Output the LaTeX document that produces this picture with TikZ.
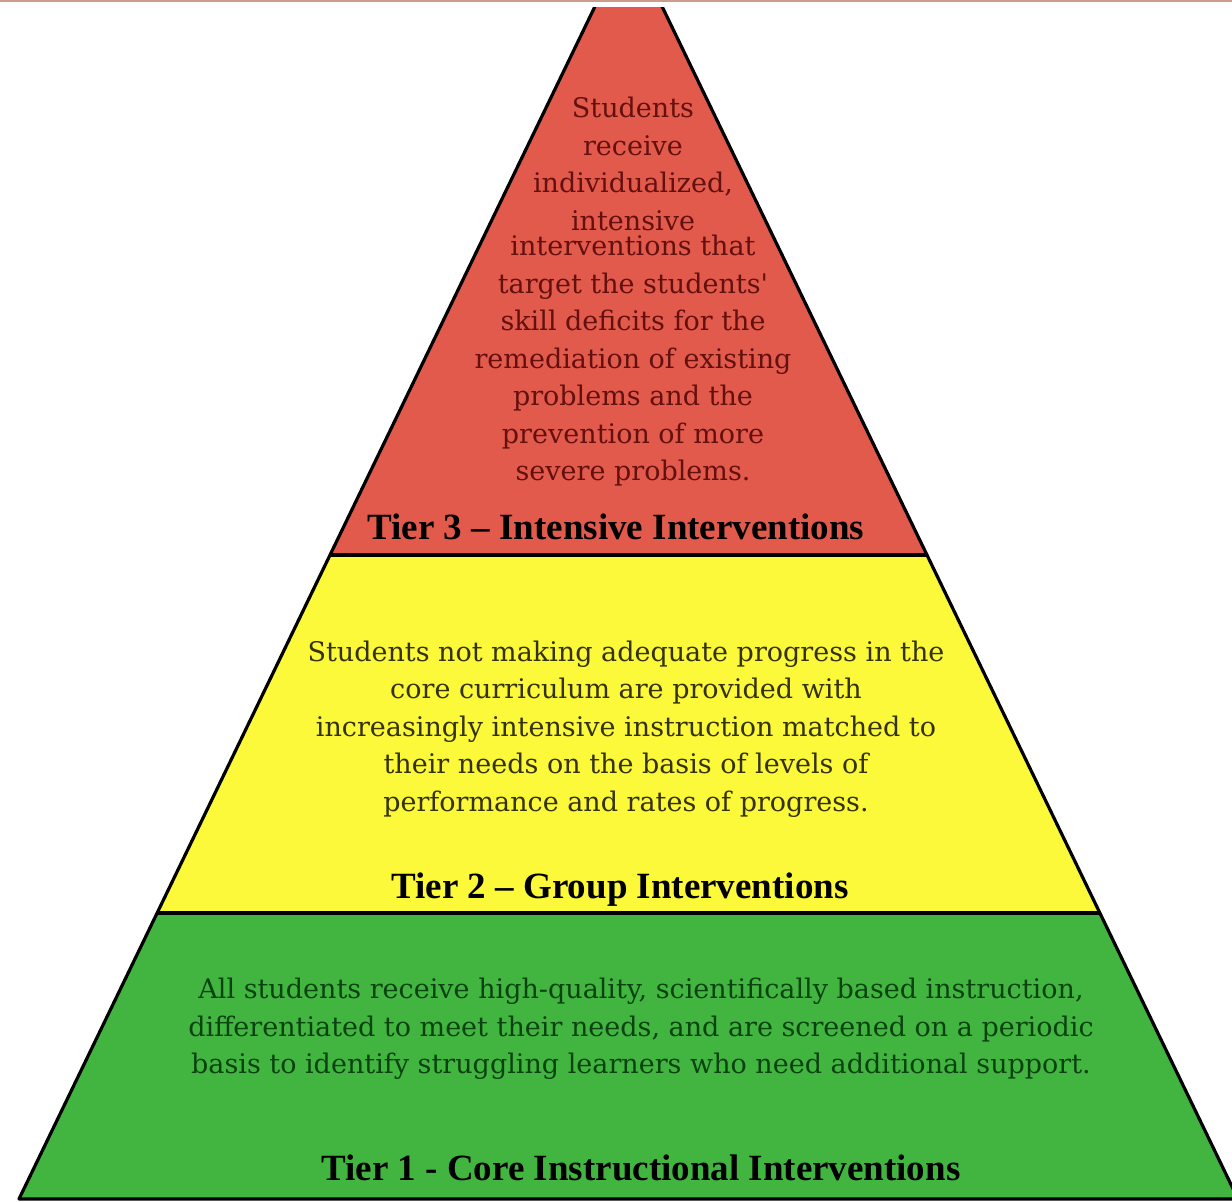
\documentclass[tikz,border=0pt]{standalone}
\usepackage{fontspec}
\setmainfont{DejaVu Serif}
\newfontfamily\tierfont{Liberation Serif}
\usepackage{tikz}
\definecolor{tier_red}{RGB}{226, 90, 76}
\definecolor{tier_yellow}{RGB}{252, 248, 58}
\definecolor{tier_green}{RGB}{66, 181, 64}
\definecolor{txt_red}{RGB}{100, 16, 14}
\definecolor{txt_yellow}{RGB}{52, 50, 8}
\definecolor{txt_green}{RGB}{10, 66, 16}
\definecolor{top_rule}{RGB}{204, 156, 140}
\tikzstyle{tiertext}=[align=center,inner sep=0pt,
  font=\fontsize{13.5}{18.75}\selectfont]
\tikzstyle{tiername}=[align=center,inner sep=0pt,text=black,
  font=\tierfont\bfseries\fontsize{18.5}{20}\selectfont]
\tikzstyle{edge}=[draw=black,line width=1.6pt,line join=round]

\begin{document}
\begin{tikzpicture}[x=0.5pt,y=-0.5pt]
    \useasboundingbox (0,0) rectangle (1232,1202);
    \fill[top_rule] (0,0) rectangle (1232,2);
    \begin{scope}
      \clip (0,8) rectangle (1232,1202);
      \coordinate (apex) at (628.5,-63);
      \coordinate (l3) at (330,555);
      \coordinate (r3) at (927,555);
      \coordinate (l2) at (157,913);
      \coordinate (r2) at (1100,913);
      \coordinate (l1) at (19,1199);
      \coordinate (r1) at (1238,1199);
      \fill[tier_red] (apex) -- (r3) -- (l3) -- cycle;
      \fill[tier_yellow] (l3) -- (r3) -- (r2) -- (l2) -- cycle;
      \fill[tier_green] (l2) -- (r2) -- (r1) -- (l1) -- cycle;
      \draw[edge] (apex) -- (l1) -- (r1) -- cycle;
      \draw[edge] (l3) -- (r3);
      \draw[edge] (l2) -- (r2);
    \end{scope}
    \node [style=tiertext,text=txt_red] (t3text) at (633,292) {Students\\
      receive\\ individualized,\\ intensive\\[-6pt]
      interventions that\\ target the students\textquotesingle\\ skill deficits for the\\
      remediation of existing\\ problems and the\\ prevention of more\\
      severe problems.};
    \node [style=tiername] (t3name) at (616,527)
      {Tier 3 – Intensive Interventions};
    \node [style=tiertext,text=txt_yellow] (t2text) at (626,729)
      {Students not making adequate progress in the\\
      core curriculum are provided with\\
      increasingly intensive instruction matched to\\
      their needs on the basis of levels of\\
      performance and rates of progress.};
    \node [style=tiername] (t2name) at (620,890)
      {Tier 2 – Group Interventions};
    \node [style=tiertext,text=txt_green] (t1text) at (641,1029)
      {All students receive high-quality, scientifically based instruction,\\
      differentiated to meet their needs, and are screened on a periodic\\
      basis to identify struggling learners who need additional support.};
    \node [style=tiername] (t1name) at (641,1168)
      {Tier 1 - Core Instructional Interventions};
  \end{tikzpicture}
\end{document}
